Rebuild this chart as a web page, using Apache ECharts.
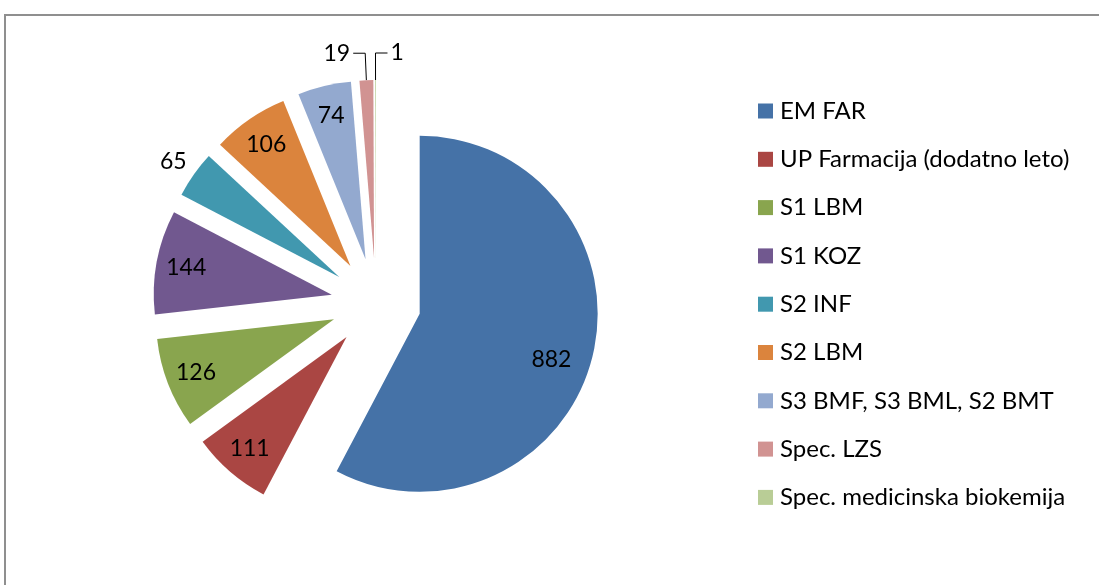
<!DOCTYPE html>
<html><head><meta charset="utf-8">
<script src="https://cdn.jsdelivr.net/npm/echarts@6/dist/echarts.min.js"></script>
<style>
html,body{margin:0;padding:0;background:#fff;overflow:hidden;}
#chart{position:absolute;left:0;top:0;width:1099px;height:585px;}
#frame{position:absolute;left:4px;top:14px;width:1200px;height:700px;border-top:2px solid #8f8f8f;border-left:2px solid #8f8f8f;pointer-events:none;}
</style></head><body>
<div id="chart"></div><div id="frame"></div>
<script>
const categories = ['EM FAR','UP Farmacija (dodatno leto)','S1 LBM','S1 KOZ','S2 INF','S2 LBM','S3 BMF, S3 BML, S2 BMT','Spec. LZS','Spec. medicinska biokemija'];
const values = [882, 111, 126, 144, 65, 106, 74, 19, 1];
const palette = ['#4572A7','#AA4643','#89A54E','#71588F','#4198AF','#DB843D','#93A9CF','#D19392','#B9CD96'];
const outsideLabels = ['S2 INF','Spec. LZS','Spec. medicinska biokemija'];

const FONT = 'Lato, "Open Sans", sans-serif';
const center = [376, 303];
const R = 178;
const explode = 45;

const chart = echarts.init(document.getElementById('chart'), null, {renderer: 'canvas'});

const mainData = categories.map((name, i) => ({
  name, value: values[i], selected: true,
  itemStyle: {color: palette[i]}
}));

const labelData = categories.map((name, i) => {
  const outside = outsideLabels.includes(name);
  return {
    name, value: values[i], selected: true,
    label: outside ? {position: 'outside', distanceToLabelLine: 3} : {position: 'inside'},
    labelLine: outside ? (name === 'S2 INF'
        ? {show: false, length: 10, length2: 0}
        : {show: true, length: 27, length2: 12, lineStyle: {color: '#000', width: 1}})
      : {show: false}
  };
});

chart.setOption({
  animation: false,
  legend: {
    orient: 'vertical', left: 758, top: 99, padding: 0,
    itemWidth: 15, itemHeight: 15, itemGap: 24.3, icon: 'rect',
    selectedMode: false,
    textStyle: {fontFamily: FONT, fontSize: 24, color: '#000', lineHeight: 24, padding: [0, 0, 0, 2]},
    data: categories
  },
  series: [
    {
      type: 'pie', center: center, radius: [0, R], startAngle: 90, clockwise: true,
      selectedMode: 'multiple', selectedOffset: explode,
      label: {show: false}, labelLine: {show: false},
      emphasis: {disabled: true}, silent: true,
      data: mainData
    },
    {
      type: 'pie', center: center, radius: [R * 0.63, R], startAngle: 90, clockwise: true,
      selectedMode: 'multiple', selectedOffset: explode,
      itemStyle: {color: 'rgba(0,0,0,0)'},
      label: {show: true, formatter: '{c}', color: '#000', fontFamily: FONT, fontSize: 23},
      emphasis: {disabled: true}, silent: true,
      avoidLabelOverlap: false,
      labelLayout: function (p) {
        if (p.dataIndex === 0) return {dx: -12, dy: 10};
        if (p.dataIndex === 4) return {dx: 4, dy: -7};
        if (p.dataIndex === 8 && p.labelLinePoints) {
          const pts = p.labelLinePoints;
          const p0 = pts[0], p1 = pts[1], p2 = pts[2];
          const len2 = p1[0] - p2[0];
          const np2 = [p1[0] + len2, p1[1]];
          return {
            dx: 2 * len2 + 6 + p.labelRect.width,
            labelLinePoints: [p0, p1, np2]
          };
        }
        return {};
      },
      data: labelData
    }
  ]
});
</script>
</body></html>
